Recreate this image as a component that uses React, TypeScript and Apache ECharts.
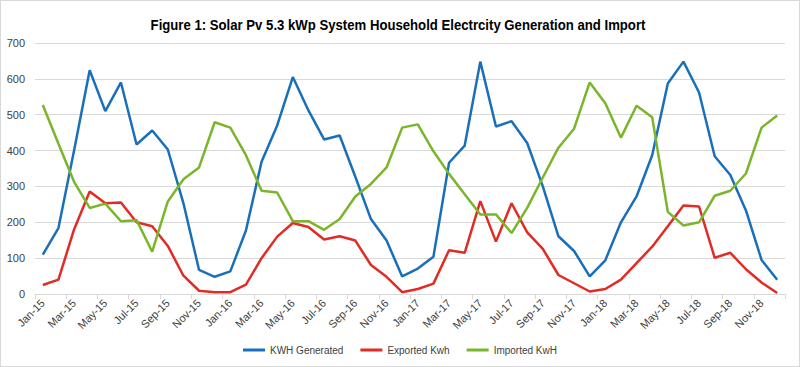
import React, { useEffect, useRef } from "react";
import * as echarts from "echarts";

const months = [
  "Jan-15","Feb-15","Mar-15","Apr-15","May-15","Jun-15","Jul-15","Aug-15","Sep-15","Oct-15","Nov-15","Dec-15",
  "Jan-16","Feb-16","Mar-16","Apr-16","May-16","Jun-16","Jul-16","Aug-16","Sep-16","Oct-16","Nov-16","Dec-16",
  "Jan-17","Feb-17","Mar-17","Apr-17","May-17","Jun-17","Jul-17","Aug-17","Sep-17","Oct-17","Nov-17","Dec-17",
  "Jan-18","Feb-18","Mar-18","Apr-18","May-18","Jun-18","Jul-18","Aug-18","Sep-18","Oct-18","Nov-18","Dec-18",
];

const kwhGenerated = [
  110, 184, 400, 624, 510, 590, 417, 456, 403, 253, 67, 48,
  63, 177, 369, 470, 605, 512, 431, 442, 327, 209, 149, 49,
  71, 104, 366, 414, 648, 467, 482, 421, 300, 161, 120, 49,
  94, 200, 272, 387, 587, 648, 562, 384, 332, 233, 95, 40,
];

const exportedKwh = [
  25, 40, 180, 286, 253, 255, 200, 189, 134, 51, 9, 5,
  5, 26, 100, 160, 198, 187, 152, 161, 149, 81, 48, 5,
  14, 29, 122, 115, 259, 146, 253, 172, 126, 53, 30, 7,
  14, 40, 86, 132, 189, 247, 244, 101, 115, 69, 32, 3,
];

const importedKwh = [
  527, 419, 313, 240, 252, 203, 206, 118, 258, 320, 353, 479,
  464, 387, 288, 283, 203, 203, 179, 209, 272, 307, 353, 464,
  473, 398, 335, 278, 222, 222, 170, 240, 325, 408, 461, 590,
  532, 436, 525, 493, 229, 191, 200, 274, 288, 336, 464, 498,
];

const yTicks = { min: 0, max: 700, interval: 100 };

const titleText = "Figure 1: Solar Pv 5.3 kWp System Household Electrcity Generation and Import";

export default function App() {
  const ref = useRef<HTMLDivElement>(null);
  useEffect(() => {
    if (!ref.current) return;
    const chart = echarts.init(ref.current, undefined, { renderer: "svg" });
    const font = "'Liberation Sans', Arial, Helvetica, sans-serif";
    const lineSeries = (name: string, data: number[], color: string) => ({
      name,
      type: "line",
      data,
      showSymbol: false,
      symbol: "none",
      lineStyle: { color, width: 2.5 },
      itemStyle: { color },
    });
    chart.setOption({
      animation: false,
      backgroundColor: "#ffffff",
      textStyle: { fontFamily: font },
      graphic: [
        {
          type: "text",
          x: 397,
          y: 24,
          scaleX: 0.94,
          style: {
            text: titleText,
            fontFamily: font,
            fontSize: 14,
            fontWeight: "bold",
            fill: "#000000",
            align: "center",
            verticalAlign: "middle",
          },
        },
      ],
      grid: { left: 34, right: 14, top: 42, bottom: 72, containLabel: false },
      legend: {
        bottom: 6,
        left: "center",
        icon: "rect",
        itemWidth: 22,
        itemHeight: 3,
        itemGap: 17,
        textStyle: { fontSize: 10, color: "#404040", fontFamily: font },
        data: ["KWH Generated", "Exported Kwh", "Imported KwH"],
      },
      xAxis: {
        type: "category",
        data: months,
        boundaryGap: true,
        axisLine: { lineStyle: { color: "#d9d9d9", width: 1 } },
        axisTick: { show: true, interval: 1, length: 5, lineStyle: { color: "#d9d9d9" } },
        axisLabel: {
          interval: 1,
          rotate: 45,
          fontSize: 11,
          color: "#404040",
          margin: 7,
          fontFamily: font,
        },
        splitLine: { show: false },
      },
      yAxis: {
        type: "value",
        min: yTicks.min,
        max: yTicks.max,
        interval: yTicks.interval,
        axisLine: { show: false },
        axisTick: { show: false },
        axisLabel: { fontSize: 11, color: "#404040", margin: 10, fontFamily: font },
        splitLine: { lineStyle: { color: "#d9d9d9", width: 1 } },
      },
      series: [
        lineSeries("KWH Generated", kwhGenerated, "#1a6fba"),
        lineSeries("Exported Kwh", exportedKwh, "#e22b24"),
        lineSeries("Imported KwH", importedKwh, "#7ab52c"),
      ],
    });
    return () => chart.dispose();
  }, []);
  return (
    <div
      style={{
        position: "absolute",
        left: 0,
        top: 0,
        width: 800,
        height: 367,
        boxSizing: "border-box",
        border: "1px solid #d9d9d9",
        background: "#fff",
      }}
    >
      <div ref={ref} style={{ width: 798, height: 365 }} />
    </div>
  );
}
